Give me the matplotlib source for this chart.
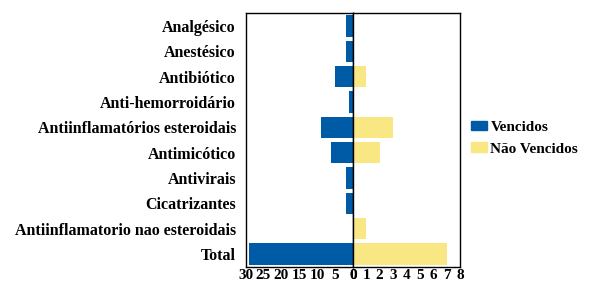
import matplotlib
matplotlib.use("Agg")
import matplotlib.pyplot as plt
from matplotlib.patches import Patch

plt.rcParams['font.family'] = ['Liberation Serif', 'DejaVu Serif']
plt.rcParams['font.weight'] = 'bold'

categorias = ['Analgésico', 'Anestésico', 'Antibiótico', 'Anti-hemorroidário',
              'Antiinflamatórios esteroidais', 'Antimicótico', 'Antivirais',
              'Cicatrizantes', 'Antiinflamatorio nao esteroidais', 'Total']
vencidos = [2, 2, 5, 1, 9, 6, 2, 2, 0, 29]
nao_vencidos = [0, 0, 1, 0, 3, 2, 0, 0, 1, 7]

azul = '#005BA6'
amarelo = '#F9E784'

fig = plt.figure(figsize=(5.89, 2.83), dpi=100)
ax1 = fig.add_axes([0.417, 0.058, 0.182, 0.895])
ax2 = fig.add_axes([0.599, 0.058, 0.182, 0.895])

y = list(range(len(categorias)))[::-1]
ax1.barh(y, vencidos, height=0.85, color=azul)
ax2.barh(y, nao_vencidos, height=0.85, color=amarelo)

ax1.set_xlim(30, 0)
ax2.set_xlim(0, 8)
for ax in (ax1, ax2):
    ax.set_ylim(-0.5, 9.5)
    ax.tick_params(length=0, labelsize=11, pad=1.5)
    for s in ax.spines.values():
        s.set_color('black')
        s.set_linewidth(1)

ax1.set_xticks([30, 25, 20, 15, 10, 5, 0])
ax2.set_xticks(range(0, 9))
ax1.set_yticks(y)
ax1.set_yticklabels(categorias, fontsize=11.5)
ax1.tick_params(axis='y', pad=7)
ax2.set_yticks([])

handles = [Patch(color=azul, label='Vencidos'), Patch(color=amarelo, label='Não Vencidos')]
fig.legend(handles=handles, loc='center left', bbox_to_anchor=(0.782, 0.512),
           frameon=False, fontsize=11, handlelength=1.0, handleheight=0.6,
           handletextpad=0.25, labelspacing=0.55, borderpad=0.2)

fig.savefig('out.png', dpi=100)
